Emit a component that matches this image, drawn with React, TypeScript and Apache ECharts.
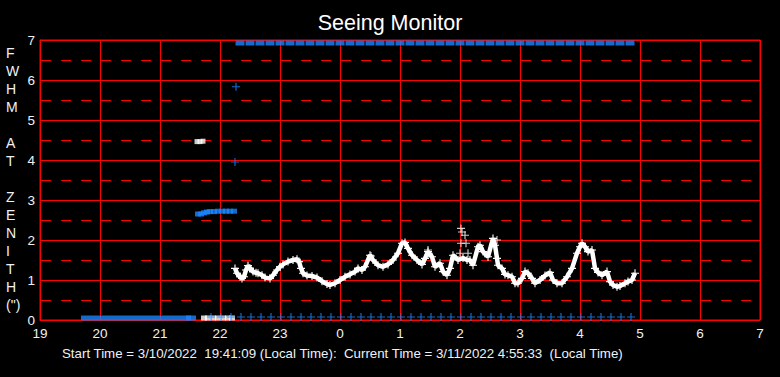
import React, { useEffect, useRef } from "react";
import * as echarts from "echarts";

// ---- data (clock times, value) ----
const xTicks = [19, 20, 21, 22, 23, 0, 1, 2, 3, 4, 5, 6, 7];
const yTicks = [0, 1, 2, 3, 4, 5, 6, 7];

// Main seeing curve (white)
const seeingTimes = [
  "22:15", "22:17", "22:20", "22:22", "22:24", "22:26", "22:28", "22:30", "22:33", "22:36",
  "22:38", "22:42", "22:45", "22:50", "22:53", "22:57", "23:00", "23:03", "23:08", "23:13",
  "23:17", "23:19", "23:21", "23:23", "23:27", "23:32", "23:37", "23:42", "23:47", "23:50",
  "23:55", "0:00", "0:05", "0:10", "0:15", "0:18", "0:22", "0:25", "0:30", "0:33",
  "0:38", "0:43", "0:48", "0:53", "0:58", "1:02", "1:05", "1:08", "1:12", "1:17",
  "1:22", "1:25", "1:28", "1:32", "1:35", "1:40", "1:43", "1:47", "1:50", "1:53",
  "1:58", "2:03", "2:07", "2:10", "2:13", "2:18", "2:20", "2:23", "2:28", "2:33",
  "2:35", "2:37", "2:38", "2:42", "2:45", "2:48", "2:52", "2:55", "2:58", "3:02",
  "3:05", "3:08", "3:12", "3:15", "3:20", "3:25", "3:30", "3:33", "3:37", "3:42",
  "3:47", "3:52", "3:57", "4:00", "4:02", "4:05", "4:08", "4:12", "4:15", "4:18",
  "4:22", "4:27", "4:30", "4:33", "4:37", "4:40", "4:45", "4:48", "4:52", "4:55",
];
const seeingValues = [
  1.29, 1.17, 1.08, 1.04, 1.08, 1.25, 1.36, 1.29, 1.21, 1.18,
  1.17, 1.12, 1.06, 1.04, 1.12, 1.25, 1.33, 1.39, 1.46, 1.5,
  1.52, 1.46, 1.29, 1.17, 1.11, 1.1, 1.06, 0.97, 0.9, 0.875,
  0.92, 1.0, 1.08, 1.14, 1.21, 1.29, 1.25, 1.33, 1.62, 1.5,
  1.37, 1.33, 1.39, 1.5, 1.67, 1.92, 1.94, 1.79, 1.62, 1.5,
  1.39, 1.54, 1.71, 1.58, 1.33, 1.42, 1.21, 1.12, 1.29, 1.62,
  1.5, 1.55, 1.5, 1.5, 1.37, 1.83, 1.87, 1.71, 1.58, 2.04,
  1.87, 1.54, 1.37, 1.29, 1.14, 1.12, 1.08, 0.92, 0.92, 1.04,
  1.21, 1.17, 1.04, 0.92, 1.0, 1.11, 1.19, 1.0, 0.92, 0.92,
  1.08, 1.29, 1.67, 1.83, 1.92, 1.83, 1.71, 1.75, 1.29, 1.19,
  1.12, 1.21, 0.96, 0.875, 0.83, 0.85, 0.92, 0.96, 1.0, 1.17,
];
// scattered white outliers
const outlierTimes = ["2:01", "2:02", "2:05", "2:01", "2:06", "2:08", "2:00", "0:31", "1:28", "2:37"];
const outlierValues = [2.29, 2.2, 2.12, 1.92, 1.92, 1.67, 1.67, 1.6, 1.75, 2.0];

// Rows of blue markers along the top (FWHM off-scale)
const topRowTimes = [
  "22:20", "22:30", "22:40", "22:50", "23:00", "23:10", "23:20", "23:30", "23:40", "23:50",
  "0:00", "0:10", "0:20", "0:30", "0:40", "0:50", "1:00", "1:10", "1:20", "1:30",
  "1:40", "1:50", "2:00", "2:10", "2:20", "2:30", "2:40", "2:50", "3:00", "3:10",
  "3:20", "3:30", "3:40", "3:50", "4:00", "4:10", "4:20", "4:30", "4:40", "4:50",
];
// Rows of markers along the bottom
const bottomDenseTimes = [
  "19:46", "19:56", "20:06", "20:16", "20:26", "20:36", "20:46", "20:56", "21:06", "21:16", "21:26", "21:31",
];
const bottomWhiteTimes = ["21:44", "21:48", "21:53", "21:58", "22:03", "22:08", "22:12"];
const bottomPlusTimes = [
  "21:51", "22:01", "22:11", "22:21", "22:31", "22:41", "22:51", "23:01", "23:11", "23:21",
  "23:31", "23:41", "23:51", "0:01", "0:11", "0:21", "0:31", "0:41", "0:51", "1:01",
  "1:11", "1:21", "1:31", "1:41", "1:51", "2:01", "2:11", "2:21", "2:31", "2:41",
  "2:51", "3:01", "3:11", "3:21", "3:31", "3:41", "3:51", "4:01", "4:11", "4:21",
  "4:31", "4:41", "4:51",
];
// Blue run near 2.7
const blueMidTimes = ["21:38", "21:41", "21:44", "21:47", "21:50", "21:54", "21:58", "22:02", "22:06", "22:10", "22:14"];
const blueMidValues = [2.65, 2.65, 2.68, 2.7, 2.71, 2.71, 2.72, 2.72, 2.72, 2.72, 2.72];
// White run near 4.45
const whiteHighTimes = ["21:37", "21:40", "21:43"];
const whiteHighValues = [4.46, 4.46, 4.47];
// Lone blue points
const blueLoneTimes = ["22:15", "22:16"];
const blueLoneValues = [3.95, 5.83];

const titleText = "Seeing Monitor";
const yTitle = "F\nW\nH\nM\n\nA\nT\n\nZ\nE\nN\nI\nT\nH\n(\")";
const footer = "Start Time = 3/10/2022  19:41:09 (Local Time):  Current Time = 3/11/2022 4:55:33  (Local Time)";

// ---- helpers ----
const toHour = (s: string) => {
  const [a, b] = s.split(":").map(Number);
  return (a < 12 ? a + 24 : a) + b / 60;
};
const pts = (times: string[], vals: number[] | number) =>
  times.map((t, i) => [toHour(t), Array.isArray(vals) ? vals[i] : vals]);

const PLUS = "path://M3,0L4,0L4,3L7,3L7,4L4,4L4,7L3,7L3,4L0,4L0,3L3,3Z";
const BLUE = "#1a86ff";
const RED = "#ff0000";
const FONT = "'Liberation Sans', Arial, sans-serif";
const LABEL = "#eef2f8";

export default function App() {
  const ref = useRef<HTMLDivElement>(null);
  useEffect(() => {
    if (!ref.current) return;
    const chart = echarts.init(ref.current, null, { renderer: "svg" });
    chart.setOption({
      animation: false,
      backgroundColor: "#000000",
      title: {
        text: titleText,
        left: "center",
        top: 7,
        textStyle: { color: "#ffffff", fontSize: 21.5, fontWeight: "normal", fontFamily: FONT },
      },
      graphic: [
        {
          type: "text",
          left: 6,
          top: 44,
          style: {
            text: yTitle,
            fill: LABEL,
            font: `14px ${FONT}`,
            lineHeight: 18,
            align: "left",
          },
        },
        {
          type: "text",
          left: 62,
          top: 347,
          style: { text: footer, fill: LABEL, font: `13.3px ${FONT}` },
        },
      ],
      grid: {
        left: 40,
        right: 20,
        top: 40,
        bottom: 57,
        show: true,
        borderColor: RED,
        borderWidth: 1,
        backgroundColor: "#000000",
      },
      xAxis: {
        type: "value",
        min: 19,
        max: 31,
        interval: 1,
        axisLine: { show: true, lineStyle: { color: RED } },
        axisTick: { show: false },
        axisLabel: {
          color: LABEL,
          fontSize: 13.5,
          fontFamily: FONT,
          margin: 6,
          showMinLabel: true,
          showMaxLabel: true,
          formatter: (v: number) => String(xTicks[Math.round(v) - 19]),
        },
        splitLine: { show: true, lineStyle: { color: RED, width: 1 } },
      },
      yAxis: {
        type: "value",
        min: 0,
        max: 7,
        interval: 1,
        axisLine: { show: true, lineStyle: { color: RED } },
        axisTick: { show: false },
        axisLabel: {
          color: LABEL,
          fontSize: 13.5,
          fontFamily: FONT,
          margin: 5,
          formatter: (v: number) => String(yTicks[Math.round(v)]),
        },
        splitLine: { show: true, lineStyle: { color: RED, width: 1 } },
        minorTick: { show: false, splitNumber: 2 },
        minorSplitLine: { show: true, lineStyle: { color: RED, width: 1, type: [10, 10], dashOffset: -1 } },
      },
      series: [
        {
          type: "scatter",
          data: pts(bottomDenseTimes, 0),
          symbol: "rect",
          symbolSize: [10, 5],
          symbolOffset: [0, -2],
          itemStyle: { color: BLUE },
          clip: false,
          silent: true,
        },
        {
          type: "scatter",
          data: pts(bottomWhiteTimes, 0),
          symbol: "rect",
          symbolSize: [6, 5],
          symbolOffset: [0, -2],
          itemStyle: { color: "#ffffff" },
          clip: false,
          silent: true,
        },
        {
          type: "scatter",
          data: pts(bottomPlusTimes, 0),
          symbol: PLUS,
          symbolSize: 8,
          symbolOffset: [0, -3],
          itemStyle: { color: BLUE },
          clip: false,
          silent: true,
        },
        {
          type: "scatter",
          data: pts(topRowTimes, 7),
          symbol: "rect",
          symbolSize: [9, 5],
          symbolOffset: [0, 3],
          itemStyle: { color: BLUE },
          clip: false,
          silent: true,
        },
        {
          type: "scatter",
          data: pts(blueMidTimes, blueMidValues),
          symbol: "rect",
          symbolSize: [6, 5],
          itemStyle: { color: BLUE },
          silent: true,
        },
        {
          type: "scatter",
          data: pts(whiteHighTimes, whiteHighValues),
          symbol: "rect",
          symbolSize: [5, 5],
          itemStyle: { color: "#ffffff" },
          silent: true,
        },
        {
          type: "scatter",
          data: pts(blueLoneTimes, blueLoneValues),
          symbol: PLUS,
          symbolSize: 8,
          itemStyle: { color: BLUE },
          silent: true,
        },
        {
          type: "line",
          data: pts(seeingTimes, seeingValues),
          symbol: PLUS,
          symbolSize: 8,
          showSymbol: true,
          lineStyle: { color: "#ffffff", width: 4.5 },
          itemStyle: { color: "#ffffff" },
          silent: true,
        },
        {
          type: "scatter",
          data: pts(outlierTimes, outlierValues),
          symbol: PLUS,
          symbolSize: 8,
          itemStyle: { color: "#ffffff" },
          silent: true,
        },
      ],
    });
    return () => chart.dispose();
  }, []);
  return (
    <div
      ref={ref}
      style={{ position: "fixed", left: 0, top: 0, width: 780, height: 377, background: "#000" }}
    />
  );
}
